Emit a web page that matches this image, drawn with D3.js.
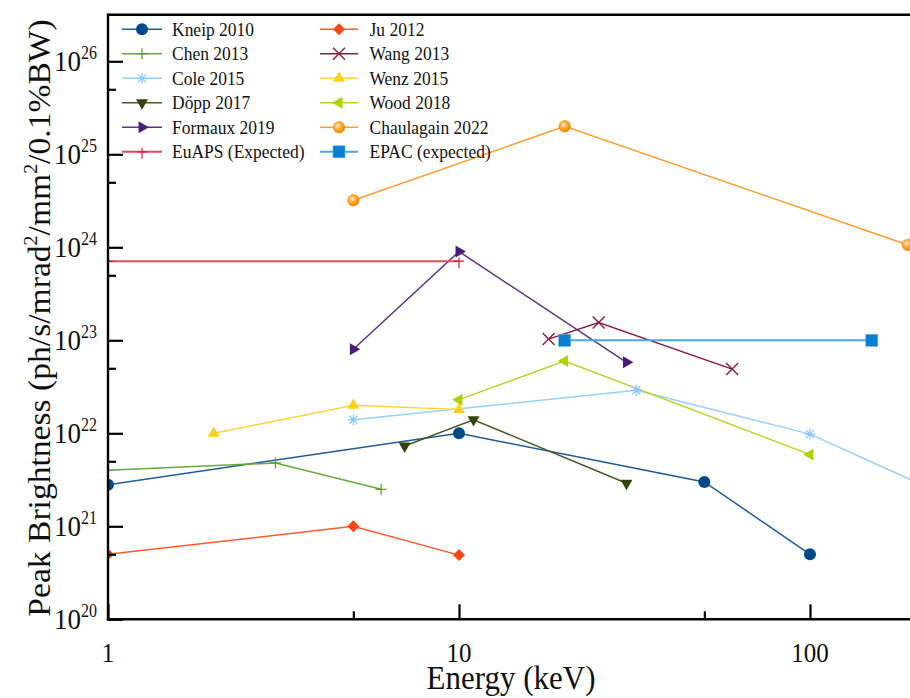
<!DOCTYPE html>
<html>
<head>
<meta charset="utf-8">
<script src="https://cdn.jsdelivr.net/npm/d3@7/dist/d3.min.js"></script>
<style>
  html, body { margin: 0; padding: 0; background: #fff; }
  svg { display: block; font-family: "Liberation Serif", "Times New Roman", serif; }
</style>
</head>
<body>
<div id="chart"></div>
<script>
// energies in keV, peak brightness in ph/s/mrad2/mm2/0.1%BW
const kneipE      = [1, 10, 50, 100];
const kneipB      = [2.8e21, 1.0e22, 3.0e21, 5.0e20];
const juE         = [1, 5, 10];
const juB         = [5.0e20, 1.0e21, 4.9e20];
const chenE       = [1, 3, 6];
const chenB       = [4.0e21, 4.8e21, 2.5e21];
const wangE       = [18, 25, 60];
const wangB       = [1.03e23, 1.55e23, 4.9e22];
const coleE       = [5, 32, 100, 200];
const coleB       = [1.4e22, 2.9e22, 9.8e21, 3.0e21];
const wenzE       = [2, 5, 10];
const wenzB       = [1.0e22, 2.0e22, 1.8e22];
const doppE       = [7, 11, 30];
const doppB       = [7.3e21, 1.4e22, 2.9e21];
const woodE       = [10, 20, 100];
const woodB       = [2.3e22, 6.0e22, 5.9e21];
const formauxE    = [5, 10, 30];
const formauxB    = [8.0e22, 9.0e23, 5.8e22];
const chaulagainE = [5, 20, 190];
const chaulagainB = [3.2e24, 2.0e25, 1.06e24];
const euapsE      = [1, 10];
const euapsB      = [7.1e23, 7.1e23];
const epacE       = [20, 150];
const epacB       = [1.0e23, 1.0e23];

const seriesNames = ['Kneip 2010', 'Ju 2012', 'Chen 2013', 'Wang 2013', 'Cole 2015', 'Wenz 2015',
                     'Döpp 2017', 'Wood 2018', 'Formaux 2019', 'Chaulagain 2022', 'EuAPS (Expected)', 'EPAC (expected)'];
const yTicks      = [1e20, 1e21, 1e22, 1e23, 1e24, 1e25, 1e26];
const yMinorTicks = [5e20, 5e21, 5e22, 5e23, 5e24, 5e25];
const xTicks      = [1, 10, 100];
const xMinorTicks = [5, 50];

const width  = 910;
const height = 698;
const plotLeft   = 108;
const plotBottom = 619.3;
const decY   = 93;
const decX   = 351;
const stretch = 1.12;   // the source text is a little taller than wide

const series = [
  {name: seriesNames[0],  e: kneipE,      b: kneipB,      color: '#014a8a', line: '#1f5a96', marker: 'circle'},
  {name: seriesNames[1],  e: juE,         b: juB,         color: '#ff4714', line: '#ff5a2a', marker: 'diamond'},
  {name: seriesNames[2],  e: chenE,       b: chenB,       color: '#5c9f2e', line: '#6aa83c', marker: 'plus'},
  {name: seriesNames[3],  e: wangE,       b: wangB,       color: '#8c1c3c', line: '#8c1c3c', marker: 'cross'},
  {name: seriesNames[4],  e: coleE,       b: coleB,       color: '#86c8fa', line: '#98d0fa', marker: 'asterisk'},
  {name: seriesNames[5],  e: wenzE,       b: wenzB,       color: '#ffcf1a', line: '#ffd63a', marker: 'triUp'},
  {name: seriesNames[6],  e: doppE,       b: doppB,       color: '#33430e', line: '#4a5828', marker: 'triDown'},
  {name: seriesNames[7],  e: woodE,       b: woodB,       color: '#b0d000', line: '#b8d420', marker: 'triLeft'},
  {name: seriesNames[8],  e: formauxE,    b: formauxB,    color: '#4a1c78', line: '#5e3488', marker: 'triRight'},
  {name: seriesNames[9],  e: chaulagainE, b: chaulagainB, color: '#ff9418', line: '#ff9e2c', marker: 'ball'},
  {name: seriesNames[10], e: euapsE,      b: euapsB,      color: '#d61f36', line: '#de4a5a', marker: 'thinPlus'},
  {name: seriesNames[11], e: epacE,       b: epacB,       color: '#0a7fd2', line: '#4aa6e4', marker: 'square'}
];

const xScale = d3.scaleLog()
  .domain([1, 200])
  .range([plotLeft, plotLeft + decX * Math.log10(200)]);

const yScale = d3.scaleLog()
  .domain([1e20, Math.pow(10, 26.5)])
  .range([plotBottom, plotBottom - 6.5 * decY]);

const plotTop   = yScale.range()[1];
const plotRight = xScale.range()[1];

const svg = d3.select('#chart')
  .append('svg')
  .attr('width', width)
  .attr('height', height)
  .attr('viewBox', `0 0 ${width} ${height}`);

const defs = svg.append('defs');
defs.append('clipPath').attr('id', 'plotClip')
  .append('rect')
  .attr('x', plotLeft).attr('y', plotTop)
  .attr('width', plotRight - plotLeft).attr('height', plotBottom - plotTop);

const grad = defs.append('radialGradient').attr('id', 'ballGrad')
  .attr('cx', '40%').attr('cy', '38%').attr('r', '60%');
grad.append('stop').attr('offset', '0%').attr('stop-color', '#fff4e0');
grad.append('stop').attr('offset', '45%').attr('stop-color', '#ffb040');
grad.append('stop').attr('offset', '100%').attr('stop-color', '#f08400');

// text placed at x,y and stretched vertically
function tallText(x, y, size) {
  return svg.append('text')
    .attr('transform', `translate(${x},${y}) scale(1,${stretch})`)
    .attr('font-size', size)
    .attr('fill', '#111');
}

// draw one marker centred on 0,0 inside group g
function drawMarker(g, type, color) {
  const tri = d3.symbol().type(d3.symbolTriangle).size(62)();
  switch (type) {
    case 'circle':
      g.append('circle').attr('r', 6).attr('fill', color);
      break;
    case 'ball':
      g.append('circle').attr('r', 5.8).attr('fill', 'url(#ballGrad)')
        .attr('stroke', '#f59010').attr('stroke-width', 0.6);
      break;
    case 'diamond':
      g.append('path').attr('d', 'M0,-6L6,0L0,6L-6,0Z').attr('fill', color);
      break;
    case 'square':
      g.append('rect').attr('x', -6).attr('y', -6).attr('width', 12).attr('height', 12)
        .attr('fill', color).attr('stroke', '#5ab0ea').attr('stroke-width', 0.6);
      break;
    case 'triUp':
      g.append('path').attr('d', tri).attr('fill', color);
      break;
    case 'triDown':
      g.append('path').attr('d', tri).attr('transform', 'rotate(180)').attr('fill', color);
      break;
    case 'triLeft':
      g.append('path').attr('d', tri).attr('transform', 'rotate(-90)').attr('fill', color);
      break;
    case 'triRight':
      g.append('path').attr('d', tri).attr('transform', 'rotate(90)').attr('fill', color);
      break;
    case 'plus':
      g.append('path').attr('d', 'M-5.5,0H5.5M0,-5.5V5.5')
        .attr('stroke', color).attr('stroke-width', 1.3).attr('fill', 'none');
      break;
    case 'thinPlus':
      g.append('path').attr('d', 'M-5,0H5M0,-4V7')
        .attr('stroke', color).attr('stroke-width', 1.2).attr('fill', 'none');
      break;
    case 'cross':
      g.append('path').attr('d', 'M-6,-6L6,6M-6,6L6,-6')
        .attr('stroke', color).attr('stroke-width', 1.4).attr('fill', 'none');
      break;
    case 'asterisk':
      g.append('path').attr('d', 'M0,-5.5V5.5M-5.5,0H5.5M-4,-4L4,4M-4,4L4,-4')
        .attr('stroke', color).attr('stroke-width', 1.2).attr('fill', 'none');
      break;
  }
}

// series lines and markers
const plot = svg.append('g').attr('clip-path', 'url(#plotClip)');

const line = d3.line()
  .x(d => xScale(d[0]))
  .y(d => yScale(d[1]));

series.forEach(s => {
  const pts = s.e.map((e, i) => [e, s.b[i]]);
  plot.append('path')
    .datum(pts)
    .attr('d', line)
    .attr('fill', 'none')
    .attr('stroke', s.line)
    .attr('stroke-width', s.marker === 'square' || s.marker === 'thinPlus' ? 2 : 1.5);
});

series.forEach(s => {
  const pts = s.e.map((e, i) => [e, s.b[i]]);
  plot.selectAll(null)
    .data(pts)
    .enter()
    .append('g')
    .attr('transform', d => `translate(${xScale(d[0])},${yScale(d[1])})`)
    .each(function() { drawMarker(d3.select(this), s.marker, s.color); });
});

// y-axis
const yAxis = svg.append('g')
  .attr('transform', `translate(${plotLeft},0)`)
  .call(d3.axisLeft(yScale).tickValues(yTicks).tickSize(-15).tickFormat(''));
yAxis.select('.domain').remove();
yAxis.selectAll('.tick line').attr('stroke', '#000').attr('stroke-width', 2.2);

svg.append('g')
  .attr('transform', `translate(${plotLeft},0)`)
  .call(d3.axisLeft(yScale).tickValues(yMinorTicks).tickSize(-8).tickFormat(''))
  .call(g => g.select('.domain').remove())
  .selectAll('.tick line').attr('stroke', '#000').attr('stroke-width', 2.2);

yTicks.forEach(v => {
  const t = tallText(97, yScale(v) + 10, 27).attr('text-anchor', 'end');
  t.append('tspan').text('10');
  t.append('tspan').attr('font-size', 16).attr('dy', -11).text(Math.round(Math.log10(v)));
});

// x-axis
const xAxis = svg.append('g')
  .attr('transform', `translate(0,${plotBottom})`)
  .call(d3.axisBottom(xScale).tickValues(xTicks).tickSize(-15).tickFormat(''));
xAxis.select('.domain').remove();
xAxis.selectAll('.tick line').attr('stroke', '#000').attr('stroke-width', 2.2);

svg.append('g')
  .attr('transform', `translate(0,${plotBottom})`)
  .call(d3.axisBottom(xScale).tickValues(xMinorTicks).tickSize(-8).tickFormat(''))
  .call(g => g.select('.domain').remove())
  .selectAll('.tick line').attr('stroke', '#000').attr('stroke-width', 2.2);

xTicks.forEach(v => {
  tallText(xScale(v), 662, 25).attr('text-anchor', 'middle').text(v);
});

// frame lines
svg.append('path')
  .attr('d', `M${plotLeft},${plotTop}H${width + 5}`)
  .attr('stroke', '#000').attr('stroke-width', 2.6).attr('fill', 'none');
svg.append('path')
  .attr('d', `M${plotLeft},${plotTop - 1.3}V${plotBottom + 1}`)
  .attr('stroke', '#000').attr('stroke-width', 2.4).attr('fill', 'none');
svg.append('path')
  .attr('d', `M${plotLeft - 1.2},${plotBottom}H${width + 5}`)
  .attr('stroke', '#000').attr('stroke-width', 2.4).attr('fill', 'none');

// axis titles
tallText(511, 689, 31).attr('text-anchor', 'middle').text('Energy (keV)');

const yTitle = svg.append('text')
  .attr('transform', `translate(50,318) scale(1,1.05) rotate(-90)`)
  .attr('text-anchor', 'middle')
  .attr('font-size', 32)
  .attr('fill', '#111');
yTitle.append('tspan').text('Peak Brightness (ph/s/mrad');
yTitle.append('tspan').attr('font-size', 19).attr('dy', -13).text('2');
yTitle.append('tspan').attr('dy', 13).text('/mm');
yTitle.append('tspan').attr('font-size', 19).attr('dy', -13).text('2');
yTitle.append('tspan').attr('dy', 13).text('/0.1%BW)');

// legend, two columns
const legendRow0 = 29.3;
const legendStep = 24.5;
const legendCols = [{x0: 122, x1: 162, tx: 172}, {x0: 320, x1: 358, tx: 369.5}];

series.forEach((s, i) => {
  const col = legendCols[i % 2];
  const y = legendRow0 + Math.floor(i / 2) * legendStep;
  svg.append('line')
    .attr('x1', col.x0).attr('x2', col.x1)
    .attr('y1', y).attr('y2', y)
    .attr('stroke', s.line)
    .attr('stroke-width', s.marker === 'square' || s.marker === 'thinPlus' ? 2 : 1.5);
  const g = svg.append('g').attr('transform', `translate(${(col.x0 + col.x1) / 2},${y})`);
  drawMarker(g, s.marker, s.color);
  tallText(col.tx, y + 6.5, 17.5).text(s.name);
});
</script>
</body>
</html>
